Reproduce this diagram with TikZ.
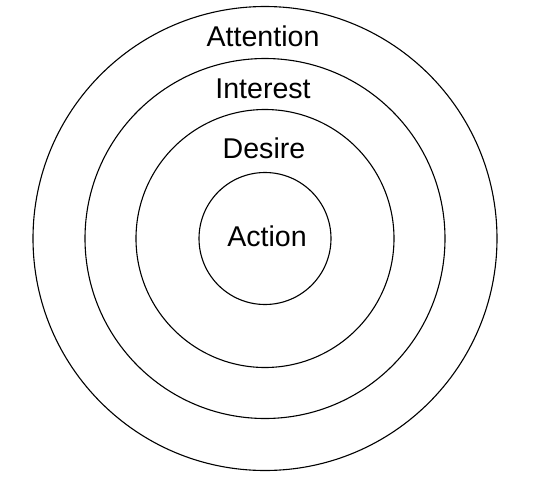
\documentclass[tikz,border=0pt]{standalone}
\usepackage{fontspec}
\setmainfont{Liberation Sans}
\usetikzlibrary{positioning}
\tikzset{ring/.style={draw, circle, line width=1.1pt, inner sep=0pt},
  stage/.style={font=\fontsize{28.6}{34}\selectfont, anchor=base, inner sep=0pt}}

\begin{document}
\begin{tikzpicture}[x=1pt,y=-1pt]
  \useasboundingbox (0,0) rectangle (536,480);
  % Common centre of the rings
  \coordinate (centre) at (265,238.5);

  % Draw the rings, outermost first
  \foreach \name/\radius in {attention/232, interest/180, desire/129, action/66} {
    \node[ring, minimum size=2*\radius*1pt] (\name ring) at (centre) {}; }

  % Stage names
  \node[stage] (attention) at (263,46) {Attention};
  \node[stage] (interest) at (263,98) {Interest};
  \node[stage] (desire) at (264,158) {Desire};
  \node[stage] (action) at (267,246) {Action};
\end{tikzpicture}
\end{document}
